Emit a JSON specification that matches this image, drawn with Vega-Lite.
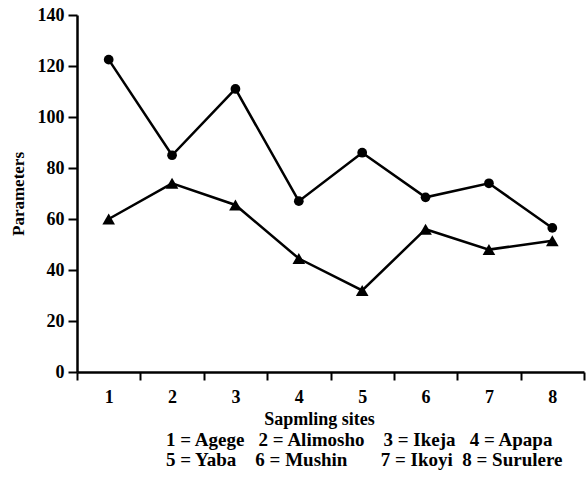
{
  "$schema": "https://vega.github.io/schema/vega-lite/v6.json",
  "width": 507,
  "height": 357,
  "autosize": {"type": "none"},
  "padding": {"left": 77, "top": 15, "right": 2, "bottom": 105},
  "background": "white",
  "config": {
    "view": {"stroke": null},
    "font": "'Liberation Serif', 'Times New Roman', serif",
    "axis": {
      "grid": false,
      "domainColor": "black",
      "domainWidth": 2.5,
      "tickColor": "black",
      "tickWidth": 2,
      "labelFont": "'Liberation Serif', 'Times New Roman', serif",
      "labelFontWeight": "bold",
      "labelFontSize": 18,
      "labelColor": "black",
      "titleFont": "'Liberation Serif', 'Times New Roman', serif",
      "titleFontWeight": "bold",
      "titleFontSize": 18,
      "titleColor": "black"
    }
  },
  "title": {
    "text": [
      "1 = Agege\u00a0\u00a0\u00a02 = Alimosho\u00a0\u00a0\u00a0\u00a03 = Ikeja\u00a0\u00a0\u00a04 = Apapa",
      "5 = Yaba\u00a0\u00a0\u00a0\u00a06 = Mushin\u00a0\u00a0\u00a0\u00a0\u00a0\u00a0\u00a07 = Ikoyi\u00a0\u00a08 = Surulere"
    ],
    "orient": "bottom",
    "frame": "group",
    "anchor": "start",
    "align": "left",
    "dx": 89,
    "offset": 3,
    "font": "'Liberation Serif', 'Times New Roman', serif",
    "fontWeight": "bold",
    "fontSize": 19,
    "lineHeight": 20,
    "color": "black"
  },
  "data": {
    "values": [
      {"site": 1, "value": 122.5, "series": "A"},
      {"site": 2, "value": 85, "series": "A"},
      {"site": 3, "value": 111, "series": "A"},
      {"site": 4, "value": 67, "series": "A"},
      {"site": 5, "value": 86, "series": "A"},
      {"site": 6, "value": 68.5, "series": "A"},
      {"site": 7, "value": 74, "series": "A"},
      {"site": 8, "value": 56.5, "series": "A"},
      {"site": 1, "value": 60, "series": "B"},
      {"site": 2, "value": 74, "series": "B"},
      {"site": 3, "value": 65.5, "series": "B"},
      {"site": 4, "value": 44.5, "series": "B"},
      {"site": 5, "value": 32, "series": "B"},
      {"site": 6, "value": 56, "series": "B"},
      {"site": 7, "value": 48, "series": "B"},
      {"site": 8, "value": 51.5, "series": "B"}
    ]
  },
  "encoding": {
    "x": {
      "field": "site",
      "type": "quantitative",
      "scale": {"domain": [0.5, 8.5], "nice": false, "zero": false},
      "axis": {
        "title": "Sapmling sites",
        "titleX": 242,
        "values": [0.5, 1.5, 2.5, 3.5, 4.5, 5.5, 6.5, 7.5, 8.5],
        "labelExpr": "datum.value < 8 ? format(datum.value + 0.5, 'd') : ''",
        "labelOffset": 31.7,
        "labelFlush": false,
        "labelOverlap": false,
        "tickSize": 8,
        "labelPadding": 8,
        "titlePadding": 4
      }
    },
    "y": {
      "field": "value",
      "type": "quantitative",
      "scale": {"domain": [0, 140], "nice": false},
      "axis": {
        "title": "Parameters",
        "titleFontSize": 17,
        "values": [0, 20, 40, 60, 80, 100, 120, 140],
        "tickSize": 9,
        "labelPadding": 4,
        "titlePadding": 10
      }
    }
  },
  "layer": [
    {
      "mark": {"type": "line", "color": "black", "strokeWidth": 2.5},
      "encoding": {"detail": {"field": "series"}}
    },
    {
      "mark": {"type": "point", "filled": true, "color": "black", "opacity": 1},
      "encoding": {
        "shape": {
          "field": "series",
          "scale": {"domain": ["A", "B"], "range": ["circle", "triangle-up"]},
          "legend": null
        },
        "size": {
          "field": "series",
          "scale": {"domain": ["A", "B"], "range": [95, 160]},
          "legend": null
        }
      }
    }
  ]
}
